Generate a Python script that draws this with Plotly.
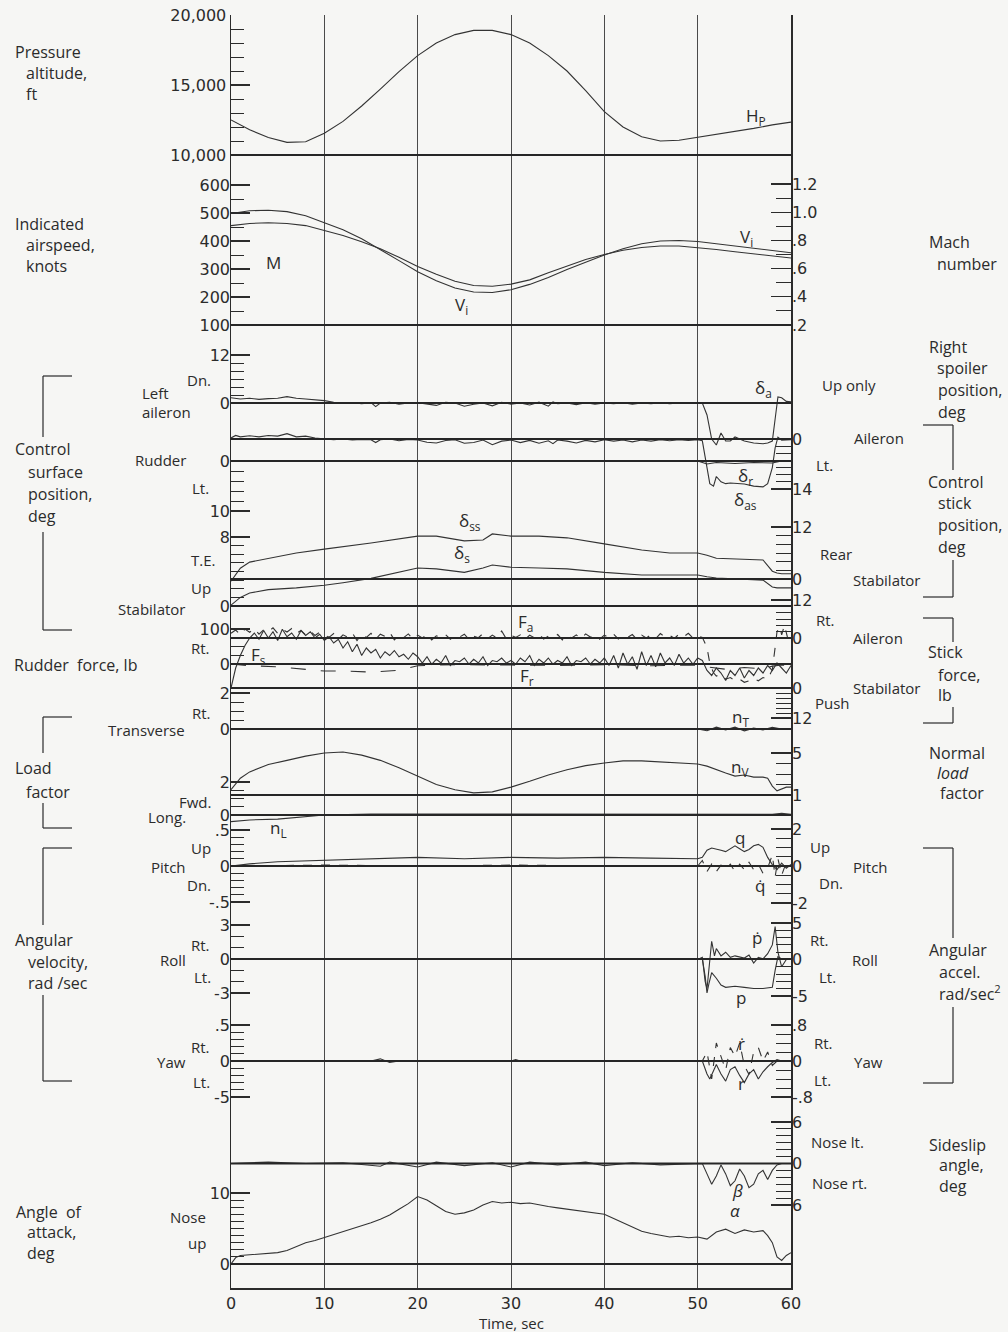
import plotly.graph_objects as go

# ------------------------------------------------------------------ data
T2 = list(range(0, 61, 2))
ALT_FT = [12500, 11800, 11250, 10900, 10950, 11550, 12400, 13500, 14700, 15950, 17100,
          18000, 18600, 18900, 18900, 18600, 18000, 17100, 16000, 14600, 13100, 12000,
          11300, 11000, 11050, 11250, 11500, 11700, 11900, 12150, 12350]
VI_KT = [498, 508, 510, 505, 490, 466, 440, 408, 370, 330, 290, 258, 232, 218, 216, 226,
         245, 270, 298, 325, 350, 372, 390, 400, 402, 398, 390, 382, 373, 365, 358]
MACH = [.905, .92, .925, .92, .905, .87, .835, .79, .74, .68, .615, .56, .51, .48, .475,
        .49, .52, .57, .62, .665, .70, .73, .75, .76, .76, .75, .735, .72, .705, .69, .675]

DELTA_A = [(0, 1.3), (1, 1.0), (2, 1.2), (3, 0.9), (4, 1.1), (5, 1.2), (6, 1.6), (7, 1.2), (8, 1.0),
           (9, 0.8), (10, 0.6), (11, 0.2), (12, 0), (13, 0.1), (14, -0.2), (15, 0.1), (15.5, -0.9),
           (16, 0), (17, 0.2), (18, -0.3), (19, 0), (20, 0.1), (21, -0.2), (22, -0.6), (23, 0.2),
           (24, 0), (25, -0.8), (26, -0.3), (27, 0), (28, -0.7), (29, 0.2), (30, -0.3), (31, 0),
           (32, -0.5), (33, 0.2), (34, -0.8), (34.5, 0.3), (35, -0.2), (36, 0), (37, -0.4),
           (38, 0.1), (39, -0.3), (40, 0), (41, -0.2), (42, 0.1), (43, -0.3), (44, 0), (45, -0.2),
           (46, 0.1), (47, -0.2), (48, 0), (49, 0.1), (50, 0), (50.5, 0), (51, -3), (51.5, -9),
           (52, -10.5), (52.5, -7.5), (53, -9.5), (53.5, -9.5), (54, -8.5), (55, -9.5), (56, -10),
           (57, -10.2), (57.5, -10), (58, -9.5), (58.3, -4), (58.6, 1.5), (59, 1.3), (59.5, 0.4),
           (60, 0.3)]
DELTA_AS = [(0, -0.3), (0.5, -1.0), (1, -0.6), (2, -0.9), (3, -0.6), (4, -1.0), (5, -0.8), (6, -1.5),
            (7, -0.6), (8, -0.8), (9, -0.3), (10, 0), (11, 0.2), (12, 0), (13, 0.3), (14, 0.1),
            (15, 0.2), (15.5, 1.0), (16, 0.2), (17, 0), (18, 0.5), (19, 0.1), (20, 0.3), (21, 0.9),
            (22, 1.1), (23, 0.4), (24, 0.2), (25, 1.2), (26, 1.0), (27, 0.3), (28, 1.6), (29, 0.6),
            (30, 0.3), (31, 1.0), (32, 0.4), (33, 1.2), (34, 0.5), (34.5, 1.3), (35, 0.3), (36, 0.6),
            (37, 1.1), (38, 0.4), (39, 0.8), (40, 0.2), (41, 0.6), (42, 0.3), (43, 0.8), (44, 0.3),
            (45, 0.6), (46, 0.2), (47, 0.5), (48, 0.2), (49, 0.4), (50, 0.2), (50.5, 0.5), (51, 8),
            (51.3, 12.5), (51.7, 13.2), (52, 10.5), (52.5, 12), (53, 12.5), (53.5, 12.3), (54, 12.4),
            (55, 12.6), (56, 13.2), (57, 13.4), (57.5, 12.5), (58, 8), (58.3, 2.5), (58.6, -0.5),
            (59, 0.3), (59.5, 0.2), (60, 0.2)]
DELTA_R = [(0, 0), (10, 0), (20, 0.1), (30, 0), (40, 0.1), (50, 0), (51, 0.6), (52, 0.3), (54, 0.5),
           (56, 0.3), (58, 0.4), (59, 0), (60, 0)]
DELTA_SS = [(0, -0.5), (0.5, 0.9), (1, 2.5), (2, 3.9), (4, 4.8), (7, 6.0), (10, 6.9), (15, 8.3),
            (20, 9.9), (22, 9.9), (25, 8.8), (27, 9.0), (28, 10.4), (30, 9.9), (33, 9.9), (36, 9.5),
            (40, 8.1), (44, 6.7), (47, 6.0), (50, 6.0), (51, 5.5), (52, 4.8), (57, 4.4), (57.5, 3.2),
            (58, 1.8), (58.5, 1.4), (59, 1.2), (60, 1.2)]
DELTA_S = [(0, 0.1), (0.5, 0.6), (1, 1.0), (2, 1.5), (4, 1.9), (7, 2.1), (10, 2.4), (12, 2.7),
           (15, 3.2), (20, 4.4), (22, 4.3), (25, 3.9), (27, 4.4), (28, 4.75), (30, 4.5), (33, 4.4),
           (36, 4.3), (40, 3.9), (44, 3.6), (47, 3.6), (50, 3.6), (51, 3.4), (52, 3.25), (57, 3.0),
           (57.5, 2.55), (58, 2.2), (58.5, 2.1), (60, 2.1)]

F_R = [(0, 0), (2, -5), (5, -8), (8, -15), (10, -20), (12, -20), (15, -23), (18, -18), (20, -5),
       (22, -3), (25, -2), (30, -3), (35, -4), (40, -2), (45, -5), (50, -3), (51, -8), (53, -15),
       (55, -10), (57, -14), (58, -6), (59, -3), (60, -5)]
T_HALF = [i * 0.5 for i in range(101)]          # 0 ... 50 s sampling grid
F_A_0_50 = [1.5, 2.5, 1.0, 2.8, 1.8, 3.0, 1.2, 2.6, 2.0, 3.2, 1.5, 2.8, 1.9, 3.0, 1.4, 2.4, 1.0, 2.2, 0.8, 1.8, 1.0,
            0.2, 1.4, -0.5, 1.0, 0.3, 1.6, -0.8, 0.9, 0.2, 1.5, -0.4, 1.2, 0.5, 1.8, -0.6, 0.8, 0.1, 1.3, -0.3, 0.9,
            0.0, 1.1, -0.6, 0.7, 0.2, 1.0, -0.4, 0.8, 0.3, 1.2, -0.5, 0.6, 0.1, 1.4, -0.2, 0.9, 0.0, 2.2, -0.3, 0.8,
            0.2, 1.0, -0.5, 0.9, 0.1, 1.2, -0.3, 0.6, 0.4, 1.1, -0.6, 0.8, 0.0, 1.0, -0.2, 1.3, 0.3, 0.7, -0.4, 0.9,
            0.1, 1.2, -0.3, 0.8, 0.2, 1.1, -0.5, 0.9, 0.0, 1.0, -0.2, 1.4, 0.3, 0.8, -0.1, 1.2, 0.4, 1.5, 0.0, 0.6]
F_A_50_60 = [(50.5, 0.2), (51, -3), (51.3, -8), (51.7, -11), (52, -12), (52.5, -11.5), (53, -13),
             (53.5, -12.5), (54, -13.5), (54.5, -13), (55, -14), (55.5, -13.5), (56, -12.8),
             (56.5, -13.5), (57, -12.5), (57.5, -13), (58, -10), (58.3, -3), (58.5, 2), (58.8, 3.5),
             (59, 1), (59.3, 4), (59.6, 0.5), (60, -1.5)]
F_S_0_50 = [0, -8, -13, -17, -20,
            -22, -19.5, -23, -20, -22.5, -19, -23.5, -20.5, -22, -19.5, -23, -21, -22.5, -20, -21.5, -19,
            -20.5, -18, -19.5, -16, -18.5, -14.5, -17.5, -13, -16, -14, -15.5, -12, -14.5, -13, -15, -12.5,
            -13.5, -11.5, -14, -12.5,
            -10, -12.5, -9.5, -11.5, -10, -13, -9, -11, -10.5, -12, -9.5, -11.5, -10, -12.5, -9, -11, -10.5,
            -12, -10, -11,
            -9.5, -12, -10.5, -13, -9, -11.5, -10, -12, -9.5, -11, -10, -12.5, -9, -11, -10.5, -12, -9.5,
            -11.5, -10, -12,
            -9, -13, -8, -14, -9.5, -12.5, -7.5, -14.5, -9, -13, -8.5, -14, -10, -12, -9, -13.5, -10, -12,
            -9.5, -12]
F_S_50_60 = [(50.5, -11), (51, -7), (51.5, -5), (52, -8), (52.5, -6), (53, -3), (53.5, -7), (54, -5),
             (54.5, -8), (55, -4), (55.5, -7), (56, -5), (56.5, -8), (57, -6), (57.5, -9), (58, -7),
             (58.5, -10), (59, -8), (59.5, -6), (60, -9)]

N_T = [(0, 0), (10, 0), (20, 0), (30, 0), (40, 0), (50, 0), (51, -0.1), (52, 0.1), (53, -0.05),
       (54, 0.1), (55, -0.1), (56, 0.05), (57, -0.05), (58, 0.1), (59, 0), (60, 0)]
N_V = [(0, 1.5), (0.5, 2.1), (1, 2.6), (2, 3.2), (4, 3.9), (6, 4.3), (8, 4.7), (10, 5.0), (12, 5.1),
       (14, 4.8), (16, 4.3), (18, 3.6), (20, 2.8), (22, 2.0), (24, 1.5), (26, 1.2), (28, 1.3),
       (30, 1.75), (32, 2.3), (34, 2.9), (36, 3.4), (38, 3.8), (40, 4.05), (42, 4.25), (44, 4.25),
       (46, 4.15), (48, 4.05), (50, 3.95), (51, 3.75), (52, 3.4), (53, 3.1), (54, 2.8), (55, 2.9),
       (56, 2.7), (57, 2.7), (57.5, 2.6), (58, 1.85), (58.5, 1.4), (59, 1.6), (59.5, 1.75), (60, 1.75)]
N_L = [(0, -0.4), (2, -0.3), (5, -0.25), (8, -0.1), (10, 0), (15, 0.06), (30, 0.05), (45, 0.05),
       (58, 0.05), (59, 0.1), (60, 0.05)]

Q = [(0, 0), (2, 0.03), (5, 0.06), (10, 0.08), (15, 0.1), (20, 0.12), (25, 0.1), (30, 0.12),
     (35, 0.11), (40, 0.12), (45, 0.11), (50, 0.1), (50.5, 0.12), (51, 0.22), (51.5, 0.25),
     (52, 0.24), (52.5, 0.22), (53, 0.2), (53.5, 0.24), (54, 0.28), (54.5, 0.24), (55, 0.2),
     (55.5, 0.23), (56, 0.28), (56.5, 0.3), (57, 0.26), (57.5, 0.12), (58, 0.02), (58.5, -0.05),
     (59, 0.04), (59.5, -0.03), (60, 0.02)]
Q_DOT = [(0, 0), (10, 0.05), (20, 0), (30, 0.05), (40, 0), (50, 0), (50.5, 0.3), (51, -0.3),
         (51.5, 0.1), (52, -0.3), (52.5, 0.05), (53, -0.2), (53.5, 0.1), (54, -0.3), (54.5, 0.1),
         (55, -0.2), (55.5, 0.2), (56, -0.2), (56.5, 0.1), (57, -0.4), (57.5, -0.1), (58, 0.6),
         (58.3, -0.6), (58.6, 0.4), (59, -0.5), (59.5, 0.2), (60, 0)]
P = [(0, 0), (50.5, 0), (50.8, -1.5), (51, -3.0), (51.2, -2.2), (51.5, -1.2), (52, -1.7),
     (52.5, -2.3), (53, -2.5), (54, -2.4), (55, -2.5), (56, -2.6), (57, -2.6), (58, -2.5),
     (58.3, -1), (58.6, 0.2), (59, 0), (60, 0)]
P_DOT = [(0, 0), (50, 0), (50.5, 0.3), (50.8, -3), (51, -4), (51.2, -1), (51.5, 2.5), (51.8, 0.5),
         (52, 1.5), (52.5, 0.5), (53, 1), (53.5, 0.3), (54, 0.5), (55, 0.2), (55.5, 0.6), (56, -0.5),
         (56.5, 0.3), (57, 0.1), (57.5, 0.8), (58, 2), (58.3, 4.5), (58.6, 1), (59, -1), (59.5, 0),
         (60, 0)]
R = [(0, 0), (15, 0), (16, 0.03), (17, -0.02), (18, 0), (30, 0), (30.5, 0.02), (31, 0), (50.5, 0),
     (51, -0.18), (51.3, -0.25), (51.7, -0.12), (52, -0.05), (52.5, -0.18), (53, -0.28),
     (53.5, -0.12), (54, -0.08), (54.5, -0.2), (55, -0.3), (55.5, -0.18), (56, -0.12),
     (56.5, -0.25), (57, -0.15), (57.5, -0.08), (58, -0.02), (58.5, 0.02), (59, 0), (60, 0)]
R_DOT = [(0, 0), (50.5, 0), (51, 0.2), (51.5, -0.4), (52, 0.4), (52.5, 0.1), (53, -0.2),
         (53.5, 0.3), (54, 0.1), (54.5, 0.4), (55, -0.1), (55.5, -0.3), (56, 0.2), (56.5, 0.3),
         (57, 0), (57.5, 0.2), (58, -0.1), (58.5, 0), (60, 0)]
BETA = [(0, 0), (4, 0.2), (8, 0), (12, 0.1), (16, -0.4), (17, 0.2), (20, -0.5), (22, 0.2),
        (25, -0.3), (28, 0.1), (30, -0.5), (32, 0.2), (35, -0.2), (38, 0.2), (40, -0.3), (43, 0.1),
        (46, -0.2), (50, 0), (50.5, 0), (51, -1.5), (51.5, -3), (52, -1.8), (52.5, -0.2), (53, -1.5),
        (53.5, -3.2), (54, -2.5), (54.5, -0.8), (55, -1.8), (55.5, -3.5), (56, -3), (56.5, -1.5),
        (57, -1), (57.5, -2.3), (58, -1), (58.5, -0.2), (59, 0), (60, 0)]
ALPHA = [(0, 0), (0.5, 0.9), (1, 1.2), (2, 1.3), (3, 1.4), (4, 1.5), (5, 1.6), (6, 1.9), (7, 2.4),
         (8, 3.0), (9, 3.3), (10, 3.7), (11, 4.1), (12, 4.6), (13, 5.0), (14, 5.4), (15, 5.8),
         (16, 6.3), (17, 6.9), (18, 7.7), (19, 8.5), (20, 9.5), (21, 9.0), (22, 8.2), (23, 7.4),
         (24, 7.0), (25, 7.2), (26, 7.6), (27, 8.3), (28, 8.8), (29, 8.6), (30, 8.7), (31, 8.5),
         (32, 8.6), (33, 8.3), (34, 8.1), (35, 7.9), (36, 7.7), (37, 7.6), (38, 7.4), (39, 7.2),
         (40, 7.0), (41, 6.4), (42, 5.8), (43, 5.2), (44, 4.6), (45, 4.3), (46, 4.0), (47, 3.8),
         (48, 3.9), (49, 3.7), (50, 3.8), (51, 3.5), (52, 4.5), (53, 4.9), (54, 4.3), (55, 4.8),
         (56, 4.5), (57, 4.7), (57.5, 4.0), (58, 3.0), (58.5, 1.0), (59, 0.5), (59.5, 1.2), (60, 1.6)]

X_TICKS = [0, 10, 20, 30, 40, 50, 60]

# ------------------------------------------------------------------ layout geometry (pixels)
W, H = 1008, 1332
L, RGT, TOP, BOT = 231, 791, 15, 1288
FONT = "Open Sans"
NUMFONT = "DejaVu Sans"
INK = "#2b2b2b"
BG = "#f6f6f4"


def fx(p):
    return (p - L) / (RGT - L)


def fy(p):
    return (BOT - p) / (BOT - TOP)


def lin(v1, p1, v2, p2, p):
    return v1 + (p - p1) * (v2 - v1) / (p2 - p1)


def fmt(v):
    return str(int(v)) if float(v).is_integer() else str(v)


# key, side, value1, pixel1, value2, pixel2, major ticks, tick text, minor step
AXES = [
    ("alt", "left", 10000, 155, 20000, 15, [10000, 15000, 20000], ["10,000", "15,000", "20,000"], 1000),
    ("vi", "left", 100, 325, 600, 185, [100, 200, 300, 400, 500, 600], None, 50),
    ("mach", "right", 0.2, 325, 1.2, 184, [0.2, 0.4, 0.6, 0.8, 1.0, 1.2], [".2", ".4", ".6", ".8", "1.0", "1.2"], 0.1),
    ("da", "left", 0, 403, 12, 355, [0, 12], None, 2),
    ("sp", "right", 0, 403, 40, 363, [0, 40], None, 40 / 6),
    ("das", "right", 0, 439, 14, 489, [0, 14], None, 2),
    ("dr", "left", 0, 461, 10, 511, [0, 10], None, 2),
    ("ds", "left", 0, 606, 8, 537, [0, 8], None, 1),
    ("dss", "right", 0, 579, 12, 527, [0, 12], None, 2),
    ("fr", "left", 0, 664, 100, 629, [0, 100], None, 25),
    ("fa", "right", 0, 638, 12, 600, [0, 12], None, 2),
    ("fs", "right", 0, 688, 12, 718, [0, 12], None, 2),
    ("nt", "left", 0, 729, 2, 693, [0, 2], None, 0.5),
    ("nv", "right", 1, 795, 5, 753, [1, 5], None, 1),
    ("nl", "left", 0, 815, 2, 782, [0, 2], None, 0.5),
    ("q", "left", -0.5, 902, 0.5, 830, [-0.5, 0, 0.5], ["-.5", "0", ".5"], 0.1),
    ("qd", "right", -2, 903, 2, 829, [-2, 0, 2], None, 0.5),
    ("p", "left", -3, 993, 3, 925, [-3, 0, 3], None, 1),
    ("pd", "right", -5, 996, 5, 923, [-5, 0, 5], None, 1),
    ("r", "left", -0.5, 1097, 0.5, 1025, [-0.5, 0, 0.5], ["-5", "0", ".5"], 0.1),
    ("rd", "right", -0.8, 1097, 0.8, 1025, [-0.8, 0, 0.8], ["-.8", "0", ".8"], 0.2),
    ("beta", "right", -6, 1205, 6, 1122, [-6, 0, 6], ["6", "0", "6"], 1),
    ("alpha", "left", 0, 1264, 10, 1193, [0, 10], None, 1),
]

layout = dict(
    width=W, height=H, template="none",
    margin=dict(l=L, r=W - RGT, t=TOP, b=H - BOT, pad=0),
    paper_bgcolor=BG, plot_bgcolor="rgba(0,0,0,0)",
    showlegend=False,
    font=dict(family=FONT, size=16, color=INK),
    xaxis=dict(domain=[0, 1], range=[0, 60], anchor="y", tickmode="array", tickvals=X_TICKS,
               ticks="", showgrid=True, gridcolor="#4a4a4a", gridwidth=1, showline=True,
               linecolor=INK, linewidth=1.5, zeroline=False, automargin=False, fixedrange=True,
               tickfont=dict(size=16, color=INK, family=NUMFONT)),
)

AX_ID = {}
for i, (key, side, v1, p1, v2, p2, major, text, mstep) in enumerate(AXES):
    n = i + 1
    aid = "y" if n == 1 else f"y{n}"
    lname = "yaxis" if n == 1 else f"yaxis{n}"
    AX_ID[key] = aid
    lo, hi = min(major), max(major)
    k = int(round((hi - lo) / mstep))
    minor_vals = [lo + j * (hi - lo) / k for j in range(k + 1)]
    major_len = 20 if side == "right" else 19
    minor_len = 15 if side == "right" else 13
    ax = dict(
        side=side, anchor="x",
        range=[lin(v1, p1, v2, p2, BOT), lin(v1, p1, v2, p2, TOP)],
        tickmode="array", tickvals=major, ticktext=text if text else [fmt(v) for v in major],
        ticks="inside", ticklen=major_len, tickwidth=1.3, tickcolor=INK,
        minor=dict(tickmode="array", tickvals=minor_vals, ticks="inside", ticklen=minor_len,
                   tickwidth=1, tickcolor=INK, showgrid=False),
        showgrid=False, zeroline=False, automargin=False, fixedrange=True,
        tickfont=dict(size=16, color=INK, family=NUMFONT),
    )
    if n == 1:
        ax.update(domain=[0, 1], showline=True, mirror=True, linecolor=INK, linewidth=1.5)
    else:
        ax.update(overlaying="y", showline=False)
    layout[lname] = ax

fig = go.Figure()


def add(series_t, series_v, key, dash="solid", width=1.1):
    fig.add_trace(go.Scatter(x=list(series_t), y=list(series_v), mode="lines", yaxis=AX_ID[key],
                             line=dict(color="#333333", width=width, dash=dash),
                             hoverinfo="skip", showlegend=False))


def add_pairs(pairs, key, dash="solid", width=1.1):
    add([p[0] for p in pairs], [p[1] for p in pairs], key, dash, width)


add(T2, ALT_FT, "alt")
add(T2, VI_KT, "vi")
add(T2, MACH, "mach")
add_pairs(DELTA_A, "da")
add_pairs(DELTA_AS, "das")
add_pairs(DELTA_R, "dr")
add_pairs(DELTA_SS, "dss")
add_pairs(DELTA_S, "ds")
add_pairs(F_R, "fr", dash="longdash")
add(T_HALF[:len(F_A_0_50)] + [p[0] for p in F_A_50_60], F_A_0_50 + [p[1] for p in F_A_50_60], "fa", dash="dash")
add(T_HALF[:len(F_S_0_50)] + [p[0] for p in F_S_50_60], F_S_0_50 + [p[1] for p in F_S_50_60], "fs")
add_pairs(N_T, "nt")
add_pairs(N_V, "nv")
add_pairs(N_L, "nl")
add_pairs(Q, "q")
add_pairs(Q_DOT, "qd", dash="dash")
add_pairs(P, "p")
add_pairs(P_DOT, "pd")
add_pairs(R, "r")
add_pairs(R_DOT, "rd", dash="dash")
add_pairs(BETA, "beta")
add_pairs(ALPHA, "alpha")

# heavy reference (baseline) lines, drawn through each channel's own scale
BASELINES = [("alt", 10000), ("vi", 100), ("da", 0), ("das", 0), ("dr", 0), ("dss", 0), ("ds", 0),
             ("fa", 0), ("fr", 0), ("fs", 0), ("nt", 0), ("nv", 1), ("nl", 0), ("q", 0), ("p", 0),
             ("r", 0), ("beta", 0), ("alpha", 0)]
shapes = []
for key, v in BASELINES:
    shapes.append(dict(type="line", xref="paper", x0=0, x1=1, yref=AX_ID[key], y0=v, y1=v,
                       line=dict(color="#262626", width=2)))

# brackets (decoration)
LEFT_BRACKETS = [(376, 437, 532, 630), (717, 753, 803, 828), (848, 925, 995, 1081)]
RIGHT_BRACKETS = [(425, 470, 560, 597), (618, 642, 707, 723), (848, 938, 1007, 1083)]


def seg(x0, y0, x1, y1):
    return dict(type="line", xref="paper", yref="paper", x0=fx(x0), y0=fy(y0), x1=fx(x1), y1=fy(y1),
                line=dict(color=INK, width=1.2))


for a, b, c, d in LEFT_BRACKETS:
    shapes += [seg(43, a, 72, a), seg(43, a, 43, b), seg(43, c, 43, d), seg(43, d, 72, d)]
for a, b, c, d in RIGHT_BRACKETS:
    shapes += [seg(923, a, 953, a), seg(953, a, 953, b), seg(953, c, 953, d), seg(923, d, 953, d)]

annotations = []


def ann(text, x, y, anchor="left", size=16):
    annotations.append(dict(text=text, x=fx(x), y=fy(y), xref="paper", yref="paper",
                            xanchor=anchor, yanchor="middle", showarrow=False,
                            font=dict(size=size, color=INK, family=FONT)))


LEFT_TITLES = [("Pressure", 13, 52), ("altitude,", 24, 73), ("ft", 24, 94),
               ("Indicated", 13, 224), ("airspeed,", 24, 245), ("knots", 24, 266),
               ("Control", 13, 449), ("surface", 26, 472), ("position,", 26, 494), ("deg", 26, 516),
               ("Rudder\u00a0\u00a0force,\u00a0lb", 12, 665),
               ("Load", 13, 768), ("factor", 24, 792),
               ("Angular", 13, 940), ("velocity,", 26, 962), ("rad /sec", 26, 983),
               ("Angle\u00a0\u00a0of", 14, 1212), ("attack,", 25, 1232), ("deg", 25, 1253)]
for t, x, y in LEFT_TITLES:
    ann(t, x, y, "left", 16)

RIGHT_TITLES = [("Mach", 927, 242), ("number", 935, 264),
                ("Right", 927, 347), ("spoiler", 935, 368), ("position,", 936, 390), ("deg", 936, 412),
                ("Control", 926, 482), ("stick", 936, 503), ("position,", 936, 525), ("deg", 936, 547),
                ("Stick", 926, 652), ("force,", 936, 675), ("lb", 936, 695),
                ("Normal", 927, 753), ("<i>load</i>", 935, 773), ("factor", 938, 793),
                ("Angular", 927, 950), ("accel.", 937, 972), ("rad/sec<sup>2</sup>", 937, 993),
                ("Sideslip", 927, 1145), ("angle,", 937, 1165), ("deg", 937, 1186)]
for t, x, y in RIGHT_TITLES:
    ann(t, x, y, "left", 16)

RIGHT_INNER = [("Up only", 820, 385), ("Aileron", 852, 438), ("Lt.", 814, 465), ("Rear", 818, 554),
               ("Stabilator", 851, 580), ("Rt.", 814, 620), ("Aileron", 851, 638),
               ("Stabilator", 851, 688), ("Push", 813, 703), ("Up", 808, 847), ("Pitch", 851, 867),
               ("Dn.", 817, 883), ("Rt.", 808, 940), ("Roll", 850, 960), ("Lt.", 817, 977),
               ("Rt.", 812, 1043), ("Yaw", 852, 1062), ("Lt.", 812, 1080), ("Nose lt.", 809, 1142),
               ("Nose rt.", 810, 1183)]
for t, x, y in RIGHT_INNER:
    ann(t, x, y, "left", 15)

LEFT_INNER = [("Dn.", 213, 380), ("Rudder", 188, 460), ("Lt.", 211, 488), ("T.E.", 217, 560),
              ("Up", 213, 588), ("Stabilator", 188, 609), ("Rt.", 212, 648), ("Rt.", 213, 713),
              ("Transverse", 187, 730), ("Fwd.", 213, 802), ("Long.", 188, 817), ("Up", 213, 848),
              ("Pitch", 188, 867), ("Dn.", 213, 885), ("Rt.", 212, 945), ("Roll", 188, 960),
              ("Lt.", 213, 977), ("Rt.", 212, 1047), ("Yaw", 188, 1062), ("Lt.", 212, 1082),
              ("Nose", 208, 1217), ("up", 208, 1243)]
for t, x, y in LEFT_INNER:
    ann(t, x, y, "right", 15)
ann("Left", 140, 393, "left", 15)
ann("aileron", 140, 412, "left", 15)

TRACE_LABELS = [("H<sub>P</sub>", 756, 117), ("M", 273, 262), ("V<sub>i</sub>", 461, 305),
                ("V<sub>i</sub>", 746, 238), ("δ<sub>a</sub>", 763, 388), ("δ<sub>r</sub>", 745, 477),
                ("δ<sub>as</sub>", 745, 500), ("δ<sub>ss</sub>", 470, 521), ("δ<sub>s</sub>", 462, 553),
                ("F<sub>a</sub>", 525, 622), ("F<sub>s</sub>", 258, 655), ("F<sub>r</sub>", 527, 676),
                ("n<sub>T</sub>", 740, 717), ("n<sub>V</sub>", 740, 767), ("n<sub>L</sub>", 278, 828),
                ("q", 740, 837), ("q\u0307", 760, 885), ("\u1e57", 757, 937), ("p", 741, 997),
                ("\u1e59", 741, 1043), ("r", 741, 1083), ("<i>β</i>", 737, 1190), ("<i>α</i>", 735, 1210)]
for t, x, y in TRACE_LABELS:
    ann(t, x, y, "center", 17)

# time-axis title
ann("Time, sec", 511, 1323, "center", 15)

layout["shapes"] = shapes
layout["annotations"] = annotations
fig.update_layout(**layout)
fig.write_html("out.html", config={"displayModeBar": False, "staticPlot": True},
               post_script="document.body.style.margin='0px';document.body.style.overflow='hidden';")
